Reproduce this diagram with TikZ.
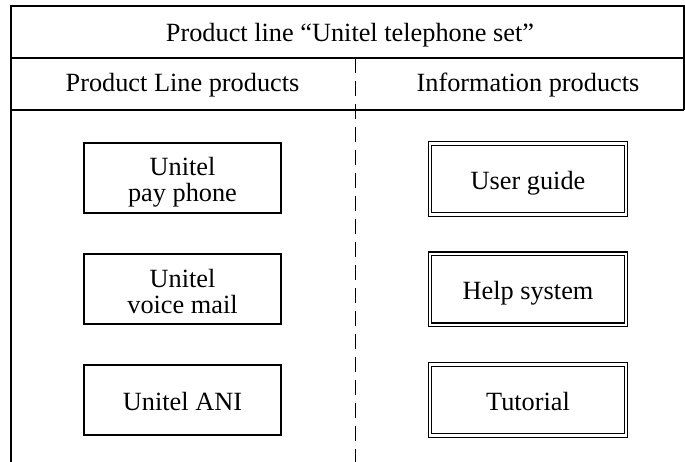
\documentclass[tikz,border=0pt]{standalone}
\usepackage{fontspec}
\setmainfont{Liberation Serif}
\begin{document}
\begin{tikzpicture}[x=1pt, y=-1pt, line width=1.2pt,
  txt/.style={font=\fontsize{26.3}{26}\selectfont, inner sep=0pt},
  headtxt/.style={txt, anchor=base},
  onelinetext/.style={text height=21pt, text depth=0pt},
  twolinetext/.style={text height=49pt, text depth=1pt},
  plainbox/.style={draw, txt, align=center, minimum width=197pt, minimum height=70pt},
  infobox/.style={draw, double, double distance=2.3pt, txt, align=center,
                  minimum width=196pt, minimum height=71pt},
  divider/.style={dash pattern=on 15pt off 8pt}]
\useasboundingbox (0,0) rectangle (685,462);

% frame corners and rule ends
\coordinate (tl) at (11,6);
\coordinate (tr) at (684,6);
\coordinate (r1l) at (11,58);
\coordinate (r1r) at (684,58);
\coordinate (r2l) at (11,110);
\coordinate (r2r) at (684,110);
\coordinate (bl) at (11,462);
\coordinate (dtop) at (355.7,58);
\coordinate (dbot) at (355.7,462);

% table frame
\draw (bl) -- (tl) -- (tr) -- (r2r);
\draw (r1l) -- (r1r);
\draw (r2l) -- (r2r);
\draw[divider] (dtop) -- (dbot);

% headings
\node[headtxt] (title) at (350,41.7) {Product line “Unitel telephone set”};
\node[headtxt] (plhead) at (182.5,91.7) {Product Line products};
\node[headtxt] (infohead) at (528,91.7) {Information products};

% product line products
\node[plainbox, twolinetext] (pay) at (182.5,178) {Unitel\\pay phone};
\node[plainbox, twolinetext] (voice) at (182.5,289) {Unitel\\voice mail};
\node[plainbox, onelinetext] (ani) at (182.5,400) {Unitel ANI};

% information products
\node[infobox, onelinetext] (guide) at (528,179) {User guide};
\node[infobox, onelinetext] (help) at (528,289.2) {Help system};
\node[infobox, onelinetext] (tutorial) at (528,400) {Tutorial};
\end{tikzpicture}
\end{document}
